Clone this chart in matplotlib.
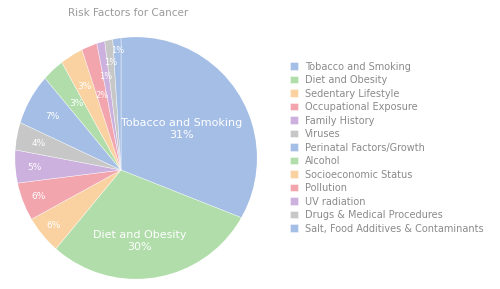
import numpy as np
import matplotlib
matplotlib.use('Agg')
import matplotlib.pyplot as plt
from matplotlib.patches import Circle

# data
factors = ['Tobacco and Smoking', 'Diet and Obesity', 'Sedentary Lifestyle',
           'Occupational Exposure', 'Family History', 'Viruses',
           'Perinatal Factors/Growth', 'Alcohol', 'Socioeconomic Status',
           'Pollution', 'UV radiation', 'Drugs & Medical Procedures',
           'Salt, Food Additives & Contaminants']
shares = [31, 30, 6, 6, 5, 4, 7, 3, 3, 2, 1, 1, 1]
named_labels = ['Tobacco and Smoking', 'Diet and Obesity']

palette = ['#7ea3dc', '#8fcf86', '#f8c07a', '#ee7f8c', '#b78fd0', '#b0b0b0']
colors = [palette[i % len(palette)] for i in range(len(factors))]

fig = plt.figure(figsize=(5, 2.89), dpi=100)
ax = fig.add_axes([0, 0, 0.56, 1])

wedges, texts, autotexts = ax.pie(
    shares, colors=colors, startangle=90, counterclock=False,
    autopct=lambda p: '%.0f%%' % p, pctdistance=0.77,
    wedgeprops=dict(alpha=0.7, linewidth=0.4, edgecolor='white'),
    textprops=dict(color='white', fontsize=6.5))

# the outline in the reference is a circle whose centre sits off the vertex
outline = Circle((0.133, 0.106), 1.07, transform=ax.transData)
for w in wedges:
    w.set_radius(1.6)
    w.set_clip_on(True)
    w.set_clip_path(outline)

for i, name in enumerate(named_labels):
    w = wedges[i]
    th = np.deg2rad((w.theta1 + w.theta2) / 2.0)
    autotexts[i].set_text(name + '\n' + autotexts[i].get_text())
    autotexts[i].set_position((0.65 * np.cos(th), 0.65 * np.sin(th)))
    autotexts[i].set_fontsize(8)
    autotexts[i].set_linespacing(1.3)

# stagger the labels of the thin slices at the top
tiny_r = [0.68, 0.84, 0.96, 1.06]
for k, i in enumerate(range(9, len(shares))):
    w = wedges[i]
    th = np.deg2rad((w.theta1 + w.theta2) / 2.0)
    autotexts[i].set_position((tiny_r[k] * np.cos(th), tiny_r[k] * np.sin(th)))
    autotexts[i].set_fontsize(6)
autotexts[7].set_position(np.array(autotexts[7].get_position()) * 0.92)
autotexts[8].set_position(np.array(autotexts[8].get_position()) * 1.05)

ax.set_xlim(-121 / 113.0, 159 / 113.0)
ax.set_ylim(-119 / 113.0, 170 / 113.0)

fig.text(0.256, 1 - 13 / 289.0, 'Risk Factors for Cancer', ha='center',
         va='center', fontsize=7.5, color='#9a9a9a')

leg = fig.legend(wedges, factors, loc='upper left', bbox_to_anchor=(0.58, 0.787),
                 frameon=False, borderpad=0, borderaxespad=0, fontsize=7,
                 handlelength=0.8, handleheight=0.8, handletextpad=0.7,
                 labelspacing=0.36)
for t in leg.get_texts():
    t.set_color('#8a8a8a')

plt.savefig('out.png', dpi=100)
